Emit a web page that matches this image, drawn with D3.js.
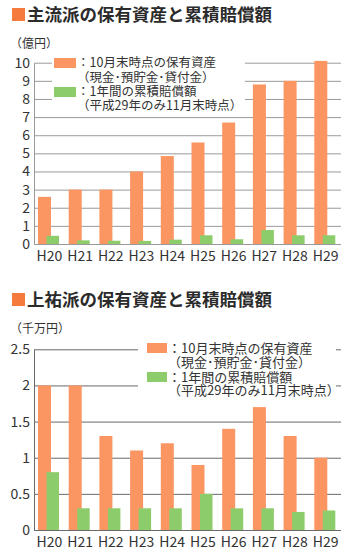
<!DOCTYPE html>
<html>
<head>
<meta charset="utf-8">
<title>保有資産と累積賠償額</title>
<script src="https://cdn.jsdelivr.net/npm/d3@7"></script>
<style>
  body { margin: 0; background: #fff; }
  text { font-family: "Noto Sans CJK JP", "Noto Sans", sans-serif; fill: #333; }
</style>
</head>
<body>
<script>
  // 年度
  var years = ["H20", "H21", "H22", "H23", "H24", "H25", "H26", "H27", "H28", "H29"];

  // 主流派（億円）
  var mainAssets = [2.6, 3.0, 3.0, 4.0, 4.85, 5.6, 6.7, 8.8, 9.0, 10.1];
  var mainComp   = [0.45, 0.2, 0.18, 0.17, 0.24, 0.48, 0.26, 0.77, 0.48, 0.48];
  var mainTicks  = [0, 1, 2, 3, 4, 5, 6, 7, 8, 9, 10];

  // 上祐派（千万円）
  var joyuAssets = [2.0, 2.0, 1.3, 1.1, 1.2, 0.9, 1.4, 1.7, 1.3, 1.0];
  var joyuComp   = [0.8, 0.3, 0.3, 0.3, 0.3, 0.5, 0.3, 0.3, 0.25, 0.27];
  var joyuTicks  = [0, 0.5, 1, 1.5, 2, 2.5];

  var legendLines = [
    "：10月末時点の保有資産",
    "（現金･預貯金･貸付金）",
    "：1年間の累積賠償額",
    "（平成29年のみ11月末時点）"
  ];

  var orange = "#fb9561";
  var green = "#8dcc6b";

  var svg = d3.select("body")
    .append("svg")
    .attr("width", 351)
    .attr("height", 555);

  function drawChart(opt) {
    var g = svg.append("g");

    // 見出し
    g.append("rect")
      .attr("x", 12).attr("y", opt.titleY - 13)
      .attr("width", 13).attr("height", 13)
      .attr("fill", "#f47a3e");
    g.append("text")
      .attr("x", 27).attr("y", opt.titleY)
      .attr("font-size", "17.5px")
      .attr("font-weight", "bold")
      .style("fill", "#2b2b2b")
      .text(opt.title);

    g.append("text")
      .attr("x", 10).attr("y", opt.unitY)
      .attr("font-size", "12px")
      .text(opt.unit);

    var x = d3.scaleBand()
      .domain(years)
      .range([34, 341]);

    var y = d3.scaleLinear()
      .domain([0, opt.max])
      .range([opt.bottom, opt.top]);

    var yAxis = g.append("g")
      .attr("transform", "translate(34,0)")
      .call(d3.axisLeft(y)
        .tickValues(opt.ticks)
        .tickFormat(d3.format("~g"))
        .tickSizeInner(-307)
        .tickSizeOuter(0)
        .tickPadding(4));
    yAxis.selectAll("line").attr("stroke", opt.gridColor);
    yAxis.select(".domain").attr("stroke", opt.gridColor);
    yAxis.selectAll("text")
      .attr("font-size", "14px")
      .attr("font-family", "'Noto Sans CJK JP', sans-serif")
      .style("fill", "#333");

    // 凡例の白地
    g.append("rect")
      .attr("x", opt.legend.x0).attr("y", opt.legend.y0)
      .attr("width", opt.legend.x1 - opt.legend.x0)
      .attr("height", opt.legend.y1 - opt.legend.y0)
      .attr("fill", "#fff");

    g.append("g").selectAll("rect")
      .data(opt.assets)
      .enter()
      .append("rect")
      .attr("x", function(d, i) { return x(years[i]) + 4; })
      .attr("y", function(d) { return y(d); })
      .attr("width", 13)
      .attr("height", function(d) { return opt.bottom - y(d); })
      .attr("fill", orange);

    g.append("g").selectAll("rect")
      .data(opt.comp)
      .enter()
      .append("rect")
      .attr("x", function(d, i) { return x(years[i]) + 12.5; })
      .attr("y", function(d) { return y(d); })
      .attr("width", 12.5)
      .attr("height", function(d) { return opt.bottom - y(d); })
      .attr("fill", green);

    var xAxis = g.append("g")
      .attr("transform", "translate(0," + opt.bottom + ")")
      .call(d3.axisBottom(x).tickSize(0).tickPadding(7));
    xAxis.select(".domain").remove();
    xAxis.selectAll("text")
      .attr("font-size", "14px")
      .attr("font-family", "'Noto Sans CJK JP', sans-serif")
      .style("fill", "#333");

    // 凡例
    var lg = opt.legend;
    g.append("rect")
      .attr("x", lg.sx).attr("y", lg.rows[0] - 5)
      .attr("width", lg.sw).attr("height", 10)
      .attr("fill", orange);
    g.append("rect")
      .attr("x", lg.sx).attr("y", lg.rows[2] - 5)
      .attr("width", lg.sw).attr("height", 10)
      .attr("fill", green);
    g.append("g").selectAll("text")
      .data(legendLines)
      .enter()
      .append("text")
      .attr("x", lg.sx + lg.sw + 1)
      .attr("y", function(d, i) { return lg.rows[i]; })
      .attr("dy", "0.35em")
      .attr("font-size", lg.fs)
      .text(function(d) { return d; });
  }

  drawChart({
    title: "主流派の保有資産と累積賠償額",
    titleY: 21,
    unit: "（億円）",
    unitY: 48,
    max: 10,
    ticks: mainTicks,
    top: 62.7,
    bottom: 244,
    assets: mainAssets,
    comp: mainComp,
    gridColor: "#9a9a9a",
    legend: { x0: 52, x1: 245, y0: 55, y1: 111, sx: 54, sw: 22, fs: "12.5px", rows: [63, 77.5, 92, 105.5] }
  });

  drawChart({
    title: "上祐派の保有資産と累積賠償額",
    titleY: 306,
    unit: "（千万円）",
    unitY: 333,
    max: 2.5,
    ticks: joyuTicks,
    top: 349.3,
    bottom: 530,
    assets: joyuAssets,
    comp: joyuComp,
    gridColor: "#6a6a6a",
    legend: { x0: 138, x1: 336, y0: 340, y1: 398, sx: 147, sw: 20, fs: "13px", rows: [348, 362, 377, 390.5] }
  });
</script>
</body>
</html>
